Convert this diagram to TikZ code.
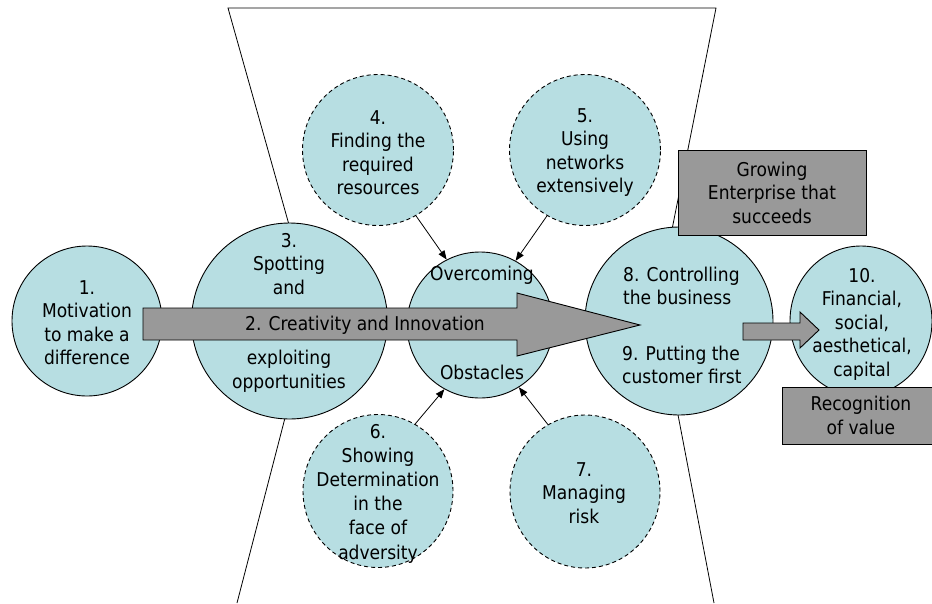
\documentclass[tikz,border=0pt]{standalone}
\usepackage{fontspec}
\setmainfont{DejaVu Sans Condensed}
\usetikzlibrary{shapes.geometric,arrows.meta}
\definecolor{cfill}{RGB}{183,222,226}
\definecolor{gfill}{RGB}{153,153,153}
\begin{document}
\begin{tikzpicture}[x=1pt,y=-1pt,
  bub/.style={circle,draw=black,line width=0.9pt,fill=cfill,inner sep=0pt},
  dbub/.style={bub,dash pattern=on 4pt off 3pt},
  dell/.style={ellipse,draw=black,line width=0.9pt,fill=cfill,inner sep=0pt,dash pattern=on 4pt off 3pt},
  txt/.style={align=center,font=\fontsize{19}{23.5}\selectfont,inner sep=0pt},
  ltxt/.style={align=left,font=\fontsize{19}{23.5}\selectfont,inner sep=0pt,anchor=west},
  gbox/.style={draw=black,line width=0.9pt,fill=gfill},
  conn/.style={line width=0.8pt,-{Triangle[length=9pt,width=7pt]}},
  hg/.style={line width=0.8pt}]
\useasboundingbox (0,0) rectangle (932,603);
% hourglass outline
\coordinate (tl) at (228,8);
\coordinate (tr) at (716,8);
\coordinate (ml) at (313,310);
\coordinate (mr) at (657,305);
\coordinate (bl) at (237,603);
\coordinate (br) at (714,603);
\draw[hg] (bl) -- (ml) -- (tl) -- (tr) -- (mr) -- (br);
% circles
\node[bub,minimum size=150pt] (c1) at (87,321) {};
\node[bub,minimum size=196pt] (c3) at (289.5,321) {};
\node[bub,minimum size=146pt] (ov) at (480,325) {};
\node[bub,minimum size=188pt] (c8) at (679,321) {};
\node[bub,minimum width=142pt,minimum height=150pt,ellipse] (c10) at (861,321) {};
\node[dbub,minimum size=151pt] (c4) at (378,150) {};
\node[dbub,minimum size=151pt] (c5) at (585,150) {};
\node[dell,minimum width=150pt,minimum height=153pt] (c6) at (378,491) {};
\node[dell,minimum width=150pt,minimum height=153pt] (c7) at (585,491.5) {};
% boxes
\node[gbox,minimum width=188pt,minimum height=85pt,txt] (grow) at (772,192.5) {Growing\\Enterprise that\\succeeds};
\node[gbox,minimum width=158pt,minimum height=57pt,txt] (recog) at (861,415.5) {Recognition\\of value};
% big arrow
\draw[gbox] (143,308) -- (517,308) -- (517,293) -- (640,325) -- (517,356) -- (517,340) -- (143,340) -- cycle;
\node[txt] (t2) at (365,325) {2. Creativity and Innovation};
% small arrow
\draw[gbox] (743,323) -- (800,323) -- (800,312) -- (819,330) -- (800,348) -- (800,340) -- (743,340) -- cycle;
% connectors
\draw[conn] (c4.-60) -- (ov.117);
\draw[conn] (c5.240) -- (ov.61);
\draw[conn] (c6.61) -- (ov.241);
\draw[conn] (c7.119) -- (ov.-58);
% texts
\node[txt] (t1) at (87,322.5) {1.\\Motivation\\to make a\\difference};
\node[txt] (t3a) at (289,264) {3.\\Spotting\\and};
\node[txt] (t3b) at (289,371.5) {exploiting\\opportunities};
\node[txt] (tova) at (482,275) {Overcoming};
\node[txt] (tovb) at (482,372) {Obstacles};
\node[ltxt] (t8) at (623,286) {8. Controlling\\the business};
\node[ltxt] (t9) at (622,365) {9. Putting the\\customer first};
\node[txt] (t10) at (862,324) {10.\\Financial,\\social,\\aesthetical,\\capital};
\node[txt] (t4) at (378,152.5) {4.\\Finding the\\required\\resources};
\node[txt] (t5) at (585,152.5) {5.\\Using\\networks\\extensively};
\node[txt,font=\fontsize{19}{24.2}\selectfont] (t6) at (378,493.5) {6.\\Showing\\Determination\\in the\\face of\\adversity};
\node[txt] (t7) at (584,493) {7.\\Managing\\risk};
\end{tikzpicture}
\end{document}
